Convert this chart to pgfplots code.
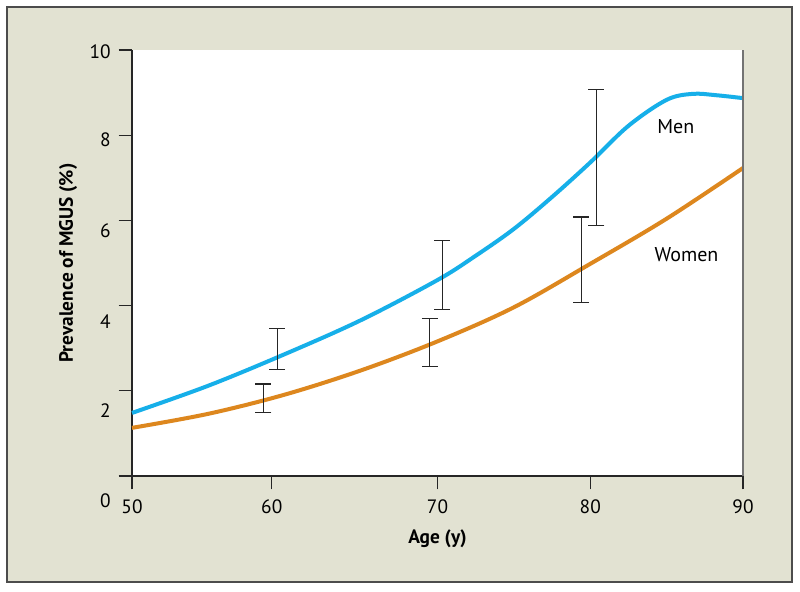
\documentclass[border=0pt]{standalone}
\usepackage{pgfplots}
\pgfplotsset{compat=1.18}
\usepackage{fontspec}
\setmainfont{PT Sans}
\definecolor{bg}{RGB}{226,226,210}
\definecolor{menblue}{RGB}{22,175,233}
\definecolor{womorange}{RGB}{221,135,30}
\begin{document}
\fontsize{14.5pt}{17pt}\selectfont
\begin{tikzpicture}
\path[use as bounding box] (0pt,0pt) rectangle (600pt,444pt);
\draw[fill=bg, draw=black!70, line width=1.5pt] (5.25pt,7.5pt) rectangle (594pt,438.75pt);
\begin{axis}[
  at={(99pt,87pt)}, anchor=south west,
  scale only axis, width=458.25pt, height=319.5pt,
  xmin=50, xmax=90, ymin=0, ymax=10,
  axis x line*=bottom, axis y line*=left,
  axis background/.style={fill=white},
  axis line style={black!85, line width=1pt},
  tick align=outside, major tick length=10pt,
  tick style={black!85, line width=1pt},
  xtick={50,59.15,70,80,90}, xticklabels={50,60,70,80,90},
  ytick={0,2,4,6,8,10},
  /pgf/number format/assume math mode=true,
  ticklabel style={font=\fontsize{14.5pt}{17pt}\selectfont},
  xticklabel style={yshift=-2.5pt},
  yticklabel style={anchor=east, xshift=-1pt, yshift={-0.75pt*({25,20,16,10,5,2}[\ticknum])}},
  xlabel={\textbf{Age (y)}},
  ylabel={\textbf{Prevalence of MGUS (\%)}},
  xlabel style={at={(axis description cs:0.5,-0.1479)}, anchor=center, font=\fontsize{14.5pt}{17pt}\selectfont},
  ylabel style={at={(axis description cs:-0.1047,0.5)}, anchor=center, font=\fontsize{14.5pt}{17pt}\selectfont},
  clip=false,
  after end axis/.code={\draw[black!55, line width=0.8pt] (rel axis cs:1,0) -- (rel axis cs:1,1);},
]
\addplot[menblue, line width=3pt, smooth, tension=0.55] coordinates {
(50,1.48) (55,2.12) (60,2.86) (65,3.66) (70,4.60) (72.5,5.17) (75,5.80) (77.5,6.55) (80,7.36) (82.5,8.22) (85,8.83) (86.7,8.97) (88.2,8.94) (90,8.87)};
\addplot[womorange, line width=3pt, smooth, tension=0.55] coordinates {
(50,1.13) (55,1.46) (60,1.91) (65,2.48) (70,3.16) (75,3.96) (80,4.98) (85,6.04) (90,7.23)};
\addplot[draw=none, forget plot, error bars/.cd, y dir=both, y explicit,
  error bar style={draw=black!85, solid, line width=0.8pt},
  error mark options={rotate=90, draw=black!85, line width=0.8pt, mark size=6pt}]
  coordinates {
  (59.5,2.99) +- (0,0.48)
  (58.6,1.82) +- (0,0.34)
  (70.3,4.71) +- (0,0.81)
  (69.5,3.125) +- (0,0.565)
  (80.4,7.475) +- (0,1.605)
  (79.4,5.08) +- (0,1.0)
  };
\node[font=\fontsize{15pt}{17pt}\selectfont] at (axis cs:85.6,8.19) {Men};
\node[font=\fontsize{15pt}{17pt}\selectfont] at (axis cs:86.3,5.19) {Women};
\end{axis}
\end{tikzpicture}
\end{document}
